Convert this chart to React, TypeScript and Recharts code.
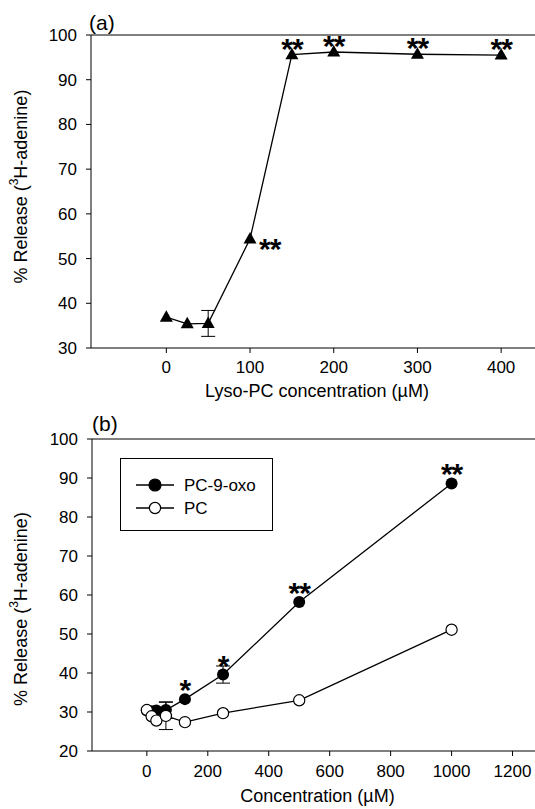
import React from "react";
import { ScatterChart, Scatter, XAxis, YAxis, ErrorBar, ReferenceLine } from "recharts";

const FONT = "'Liberation Sans', Arial, sans-serif";
const INK = "#000";

// (a) lyso-PC dose response
const lysoConc = [0, 25, 50, 100, 150, 200, 300, 400];
const lysoRelease = [36.9, 35.4, 35.5, 54.4, 95.6, 96.2, 95.7, 95.5];
const lysoErr = [null, null, 2.9, null, null, null, null, null];
const lysoSig = ["", "", "", "**", "**", "**", "**", "**"];
const lysoXTicks = [0, 100, 200, 300, 400];
const lysoYTicks = [30, 40, 50, 60, 70, 80, 90, 100];

// (b) PC-9-oxo vs PC
const oxoConc = [0, 15.6, 31.25, 62.5, 125, 250, 500, 1000];
const oxoRelease = [30.4, 30.2, 30.4, 30.5, 33.3, 39.6, 58.2, 88.6];
const oxoErr = [null, null, null, 2.1, null, 2.2, null, null];
const oxoSig = ["", "", "", "", "*", "*", "**", "**"];
const pcConc = [0, 15.6, 31.25, 62.5, 125, 250, 500, 1000];
const pcRelease = [30.5, 28.9, 27.8, 29.0, 27.4, 29.7, 33.0, 51.1];
const pcErr = [null, null, null, 3.5, null, null, null, null];
const concXTicks = [0, 200, 400, 600, 800, 1000, 1200];
const concYTicks = [20, 30, 40, 50, 60, 70, 80, 90, 100];

const zip = (xs: number[], ys: number[], errs: (number | null)[], sig?: string[]) =>
  xs.map((x, i) => ({ x, y: ys[i], err: errs[i], sig: sig ? sig[i] : "" }));

const lysoData = zip(lysoConc, lysoRelease, lysoErr, lysoSig);
const oxoData = zip(oxoConc, oxoRelease, oxoErr, oxoSig);
const pcData = zip(pcConc, pcRelease, pcErr);

// stars beside the point instead of above it
const SIDE_STARS = new Set([100]);

function Stars({ cx, cy, text, side, lift }: { cx: number; cy: number; text: string; side: boolean; lift: number }) {
  if (!text) return null;
  return (
    <text
      x={side ? cx + 9 : cx}
      y={side ? cy + 20 : cy + 17 - lift}
      textAnchor={side ? "start" : "middle"}
      fontSize={30}
      fontWeight="bold"
      fontFamily={FONT}
      letterSpacing={-1}
      fill={INK}
    >
      {text}
    </text>
  );
}

function TriangleMark(p: any) {
  const { cx, cy, payload } = p;
  return (
    <g>
      <polygon points={`${cx},${cy - 7} ${cx - 6.5},${cy + 4.5} ${cx + 6.5},${cy + 4.5}`} fill={INK} />
      <Stars cx={cx} cy={cy} text={payload.sig} side={SIDE_STARS.has(payload.x)} lift={13} />
    </g>
  );
}

function FilledMark(p: any) {
  const { cx, cy, payload } = p;
  return (
    <g>
      <circle cx={cx} cy={cy} r={6} fill={INK} />
      <Stars cx={cx} cy={cy} text={payload.sig} side={false} lift={16} />
    </g>
  );
}

function OpenMark(p: any) {
  const { cx, cy } = p;
  return <circle cx={cx} cy={cy} r={5.6} fill="#fff" stroke={INK} strokeWidth={1.2} />;
}

const tickStyle = { fontSize: 17, fill: INK, fontFamily: FONT };
const titleStyle = { fontSize: 18, fontFamily: FONT, fill: INK };

function yTitle(shift: number) {
  return (props: any) => {
    const vb = props.viewBox;
    const x = 21;
    const y = vb.y + vb.height / 2 + shift;
    return (
      <text
        x={x}
        y={y}
        transform={`rotate(-90 ${x} ${y})`}
        textAnchor="middle"
        dominantBaseline="central"
        fontSize={18}
        fontFamily={FONT}
        fill={INK}
      >
        % Release (<tspan dy={-7} fontSize={12}>3</tspan>
        <tspan dy={7}>H-adenine)</tspan>
      </text>
    );
  };
}

function LegendBox() {
  const rows = [
    { name: "PC-9-oxo", filled: true },
    { name: "PC", filled: false },
  ];
  return (
    <div style={{ border: "1px solid #000", width: 153, height: 73, boxSizing: "border-box", background: "#fff" }}>
      <svg width={151} height={71} style={{ display: "block" }}>
        {rows.map((r, i) => {
          const y = 26 + i * 23;
          return (
            <g key={r.name}>
              <line x1={15} x2={53} y1={y} y2={y} stroke={INK} strokeWidth={1.3} />
              <circle cx={34} cy={y} r={r.filled ? 6 : 5.6} fill={r.filled ? INK : "#fff"} stroke={INK} strokeWidth={1.2} />
              <text x={63} y={y} dominantBaseline="central" fontSize={17} fontFamily={FONT} fill={INK}>
                {r.name}
              </text>
            </g>
          );
        })}
      </svg>
    </div>
  );
}

const panelTag: React.CSSProperties = {
  position: "absolute",
  fontFamily: FONT,
  fontSize: 21,
  color: INK,
  lineHeight: 1,
};

export default function App() {
  return (
    <div style={{ position: "absolute", left: 0, top: 0, width: 535, height: 809, overflow: "hidden", background: "#fff" }}>
      <div style={{ position: "absolute", left: 0, top: 0 }}>
        <ScatterChart width={560} height={412} margin={{ top: 35, right: 17, left: 0, bottom: 12 }}>
          <XAxis
            type="number"
            dataKey="x"
            domain={[-90, 450]}
            ticks={lysoXTicks}
            allowDataOverflow
            height={52}
            tick={tickStyle}
            tickSize={5}
            tickMargin={8}
            stroke={INK}
            label={{ value: "Lyso-PC concentration (\u00b5M)", position: "insideBottom", offset: 3, style: titleStyle }}
          />
          <YAxis
            type="number"
            dataKey="y"
            domain={[30, 100]}
            ticks={lysoYTicks}
            allowDataOverflow
            width={91}
            tick={tickStyle}
            tickSize={5}
            tickMargin={9}
            stroke={INK}
            label={{ content: yTitle(-5) }}
          />
          <ReferenceLine y={100} stroke={INK} strokeWidth={1} />
          <Scatter
            data={lysoData}
            line={{ stroke: INK, strokeWidth: 1.3 }}
            lineType="joint"
            shape={TriangleMark}
            isAnimationActive={false}
          >
            <ErrorBar dataKey="err" direction="y" width={7} stroke={INK} strokeWidth={1} />
          </Scatter>
        </ScatterChart>
        <div style={{ ...panelTag, left: 89, top: 12 }}>(a)</div>
      </div>

      <div style={{ position: "absolute", left: 0, top: 400 }}>
        <ScatterChart width={560} height={409} margin={{ top: 39, right: 17, left: 0, bottom: 0 }}>
          <XAxis
            type="number"
            dataKey="x"
            domain={[-180, 1300]}
            ticks={concXTicks}
            allowDataOverflow
            height={58}
            tick={tickStyle}
            tickSize={5}
            tickMargin={9}
            stroke={INK}
            label={{ value: "Concentration (\u00b5M)", position: "insideBottom", offset: 7, style: titleStyle }}
          />
          <YAxis
            type="number"
            dataKey="y"
            domain={[20, 100]}
            ticks={concYTicks}
            allowDataOverflow
            width={92}
            tick={tickStyle}
            tickSize={5}
            tickMargin={9}
            stroke={INK}
            label={{ content: yTitle(14) }}
          />
          <ReferenceLine y={100} stroke={INK} strokeWidth={1} />
          <Scatter
            name="PC-9-oxo"
            data={oxoData}
            line={{ stroke: INK, strokeWidth: 1.3 }}
            lineType="joint"
            shape={FilledMark}
            isAnimationActive={false}
          >
            <ErrorBar dataKey="err" direction="y" width={7} stroke={INK} strokeWidth={1} />
          </Scatter>
          <Scatter
            name="PC"
            data={pcData}
            line={{ stroke: INK, strokeWidth: 1.3 }}
            lineType="joint"
            shape={OpenMark}
            isAnimationActive={false}
          >
            <ErrorBar dataKey="err" direction="y" width={7} stroke={INK} strokeWidth={1} />
          </Scatter>
        </ScatterChart>
        <div style={{ ...panelTag, left: 92, top: 13 }}>(b)</div>
        <div style={{ position: "absolute", left: 120, top: 58 }}>
          <LegendBox />
        </div>
      </div>
    </div>
  );
}
